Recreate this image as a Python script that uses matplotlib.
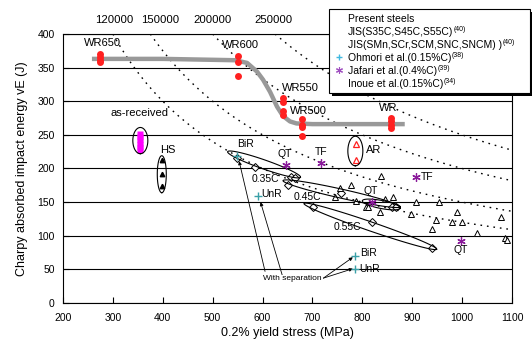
import matplotlib
matplotlib.use('Agg')
import matplotlib.pyplot as plt
from matplotlib.patches import Rectangle
import numpy as np

plt.rcParams['font.family'] = ['Liberation Sans', 'DejaVu Sans']

# present steels (WR series), red dots
wr_x = [275, 275, 275, 275, 551, 551, 551, 640, 640, 640, 640, 679, 679, 679, 679, 857, 857, 857, 857]
wr_y = [371, 366, 362, 358, 367, 358, 338, 305, 299, 286, 280, 274, 265, 262, 248, 275, 270, 265, 260]

# trend line through the WR series
trend_x = [258, 400, 545, 569, 589, 601, 615, 629, 641, 655, 668, 700, 885]
trend_y = [363, 363, 361, 357, 344, 332, 314, 292, 278, 270, 267, 266, 266]

# as-received, HS, AR
asrec_x = [355, 355, 355, 355, 355, 355]
asrec_y = [252, 247, 242, 237, 232, 227]
hs_x = [398, 398, 398]
hs_y = [213, 192, 174]
ar_x = [787, 787]
ar_y = [236, 213]

# JIS carbon steels (diamonds)
jis_c_x = [549, 585, 651, 658, 665, 701, 757, 819, 860, 868, 939]
jis_c_y = [216, 202, 175, 188, 186, 143, 163, 120, 143, 143, 82]

# JIS alloy steels (triangles)
jis_a_x = [745, 755, 778, 788, 808, 812, 835, 837, 845, 861, 898, 908, 940, 947, 953, 980, 989, 999, 1029, 1078, 1086, 1090]
jis_a_y = [158, 171, 175, 151, 143, 143, 136, 189, 154, 158, 132, 150, 110, 124, 150, 120, 135, 120, 104, 128, 96, 94]

# Ohmori et al. (+) and Jafari et al. (*)
ohmori_x = [549, 590, 785, 785]
ohmori_y = [219, 159, 70, 51]
jafari_x = [647, 717, 819, 907, 998]
jafari_y = [205, 208, 150, 187, 92]

# constant yield stress x energy curves and their top labels
hyper_c = [120000, 150000, 200000, 250000]
hyper_label_x = [302, 395, 499, 621]

# labels
labels = ['WR650', 'WR600', 'WR550', 'WR500', 'WR', 'as-received', 'HS', 'AR',
          'BiR', 'QT', 'TF', 'TF', 'QT', 'QT', 'BiR', 'UnR', 'UnR', '0.35C', '0.45C', '0.55C']
label_x = [280, 555, 675, 691, 851, 354, 410, 822, 565, 645, 717, 930, 817, 998, 812, 815, 619, 605, 689, 771]
label_y = [387, 384, 320, 286, 290, 283, 227, 228, 236, 221, 224, 187, 166, 79, 74, 51, 162, 184, 158, 113]
label_size = [8, 8, 8, 8, 8, 8, 8, 8, 7.5, 7.5, 7.5, 7.5, 7.5, 7.5, 7.5, 7.5, 7.5, 7.5, 7.5, 7.5]

legend_names = ['Present steels',
                'JIS(S35C,S45C,S55C)',
                'JIS(SMn,SCr,SCM,SNC,SNCM) )',
                'Ohmori et al.(0.15%C)',
                'Jafari et al.(0.4%C)',
                'Inoue et al.(0.15%C)']
legend_refs = ['', '(40)', '(40)', '(38)', '(39)', '(34)']

W, H = 532, 343
fig = plt.figure(figsize=(W/100, H/100), dpi=100)
ax = fig.add_axes([63/W, 1-303/H, (512-63)/W, (303-34)/H])
ax.set_xlim(200, 1100)
ax.set_ylim(0, 400)
ax.set_xticks(range(200, 1101, 100))
ax.set_yticks(range(0, 401, 50))
ax.yaxis.grid(True, color='k', lw=0.8)
ax.set_axisbelow(True)
ax.tick_params(direction='in', length=4, labelsize=7.5, width=0.8)
ax.tick_params(axis='x', pad=7)
ax.tick_params(axis='y', pad=6)
for s in ax.spines.values():
    s.set_linewidth(0.8)
ax.set_xlabel('0.2% yield stress (MPa)', fontsize=9, labelpad=3)
ax.set_ylabel('Charpy absorbed impact energy vE (J)', fontsize=9, labelpad=7)

for c, lx in zip(hyper_c, hyper_label_x):
    xs = np.linspace(c/400, 1100, 300)
    ax.plot(xs, c/xs, color='k', lw=1.0, linestyle=(0, (1.2, 3.5)))
    ax.text(lx, 421, str(c), ha='center', va='center', fontsize=8.2, clip_on=False)

ax.plot(trend_x, trend_y, color='#999999', lw=3.2, solid_capstyle='butt', zorder=3)
ax.plot(wr_x, wr_y, 'o', color='#ff2020', ms=5, mec='none', zorder=4)
ax.plot(asrec_x, asrec_y, 's', color='#ff00ff', ms=4, mec='none', zorder=4)
ax.plot(hs_x, hs_y, '^', color='k', ms=3.2, zorder=4)
ax.plot(ar_x, ar_y, '^', color='#ff2020', mfc='none', ms=5, mew=0.9, zorder=4)
ax.plot(jis_c_x, jis_c_y, 'D', color='k', mfc='white', ms=3.6, mew=0.7, zorder=4)
ax.plot(jis_a_x, jis_a_y, '^', color='k', mfc='white', ms=3.8, mew=0.7, zorder=4)
ax.plot(ohmori_x, ohmori_y, '+', color='#3aa0a8', ms=6, mew=1.0, zorder=5)
ax.plot(jafari_x, jafari_y, marker=(6, 2, 0), ls='none', color='#8a1a9a', ms=6, mew=0.9, zorder=5)

for t, x, y, fs in zip(labels, label_x, label_y, label_size):
    ax.text(x, y, t, ha='center', va='center', fontsize=fs, zorder=6)


def ellipse(p1, p2, hw):
    a = ax.transData.transform([p1, p2])
    c = a.mean(axis=0)
    d = a[1] - a[0]
    half = np.hypot(d[0], d[1]) / 2
    ang = np.arctan2(d[1], d[0])
    t = np.linspace(0, 2*np.pi, 120)
    ex = half*np.cos(t)
    ey = hw*np.sin(t)
    pts = np.c_[c[0] + ex*np.cos(ang) - ey*np.sin(ang), c[1] + ex*np.sin(ang) + ey*np.cos(ang)]
    dat = ax.transData.inverted().transform(pts)
    ax.plot(dat[:, 0], dat[:, 1], color='k', lw=0.8, zorder=4)


ellipse((355, 261), (355, 222), 7.5)
ellipse((398, 219), (398, 164), 4.5)
ellipse((786, 248), (786, 204), 7.5)
ellipse((530, 225), (676, 187), 4.5)
ellipse((641, 182), (876, 143), 4.5)
ellipse((800, 152), (876, 141), 4)
ellipse((683, 148), (949, 80), 4.5)

arrow = dict(arrowstyle='-|>', lw=0.6, color='k', mutation_scale=5, shrinkA=0, shrinkB=0)
ax.annotate('', xy=(553, 211), xytext=(605, 47), arrowprops=arrow)
ax.annotate('', xy=(596, 150), xytext=(640, 40), arrowprops=arrow)
ax.annotate('', xy=(781, 68), xytext=(722, 37), arrowprops=arrow)
ax.annotate('', xy=(781, 51), xytext=(722, 37), arrowprops=arrow)
ax.text(659, 36, 'With separation', ha='center', va='center', fontsize=6,
        bbox=dict(facecolor='white', edgecolor='none', pad=0.3), zorder=6)

# legend box (drawn by hand so the rows keep an even pitch)
fig.add_artist(Rectangle((332/W, 1-96/H), 201/W, 84/H, transform=fig.transFigure,
                         fc='k', ec='none', zorder=10))
fig.add_artist(Rectangle((329/W, 1-93/H), 201/W, 84/H, transform=fig.transFigure,
                         fc='white', ec='k', lw=0.8, zorder=11))
renderer = fig.canvas.get_renderer()
for i, (name, ref) in enumerate(zip(legend_names, legend_refs)):
    base = 22 + 13*i
    t = fig.text(348/W, 1-base/H, name, fontsize=7.5, va='baseline', ha='left', zorder=12)
    if ref:
        x1 = t.get_window_extent(renderer).x1
        fig.text((x1 + 0.5)/W, 1-(base-4)/H, ref, fontsize=5, va='baseline', ha='left', zorder=12)
fig.add_artist(plt.Line2D([339/W], [1-57/H], marker='+', color='#40b8e0', ms=5, mew=1.0,
                          transform=fig.transFigure, zorder=12))
fig.add_artist(plt.Line2D([339/W], [1-70/H], marker=(6, 2, 0), color='#a050c0', ms=5, mew=0.8,
                          transform=fig.transFigure, zorder=12))

fig.savefig('out.png', dpi=100)
